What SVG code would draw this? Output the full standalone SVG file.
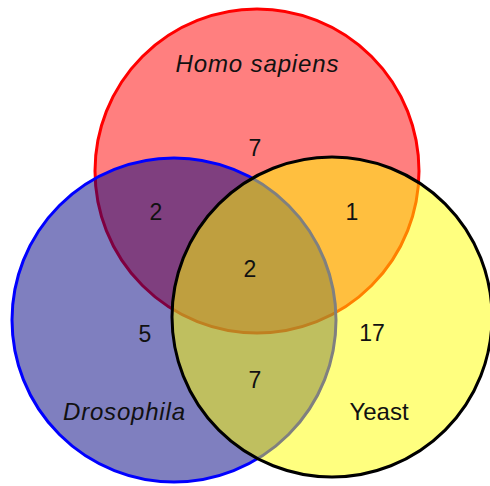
<svg xmlns="http://www.w3.org/2000/svg" width="490" height="486" viewBox="0 0 490 486">
<style>
.lbl{font-family:"Liberation Sans",Arial,sans-serif;font-size:24px;fill:#111;text-anchor:middle}
.it{font-style:italic}
.num{font-family:"Liberation Sans",Arial,sans-serif;font-size:23px;fill:#111;text-anchor:middle}
</style>
<rect width="490" height="486" fill="#fff"/>
<g id="homo-sapiens">
<circle cx="257" cy="171" r="162" fill="#ff0000" fill-opacity="0.5" stroke="#ff0000" stroke-width="3"/>
</g>
<g id="drosophila">
<circle cx="174" cy="320" r="162" fill="#000080" fill-opacity="0.5" stroke="none"/>
<circle cx="174" cy="320" r="162" fill="none" stroke="#0000ff" stroke-width="3"/>
</g>
<g id="yeast">
<circle cx="332" cy="317" r="160" fill="#ffff00" fill-opacity="0.5" stroke="#000" stroke-width="3"/>
</g>
<g id="labels">
<text class="lbl it" x="257" y="72" textLength="163" lengthAdjust="spacing">Homo sapiens</text>
<text class="lbl it" x="124" y="420" textLength="122" lengthAdjust="spacing">Drosophila</text>
<text class="lbl" x="379" y="420">Yeast</text>
<text class="num" x="255" y="156">7</text>
<text class="num" x="156" y="220">2</text>
<text class="num" x="352" y="220">1</text>
<text class="num" x="250" y="277">2</text>
<text class="num" x="145" y="342">5</text>
<text class="num" x="372" y="341">17</text>
<text class="num" x="255" y="388">7</text>
</g>
</svg>
